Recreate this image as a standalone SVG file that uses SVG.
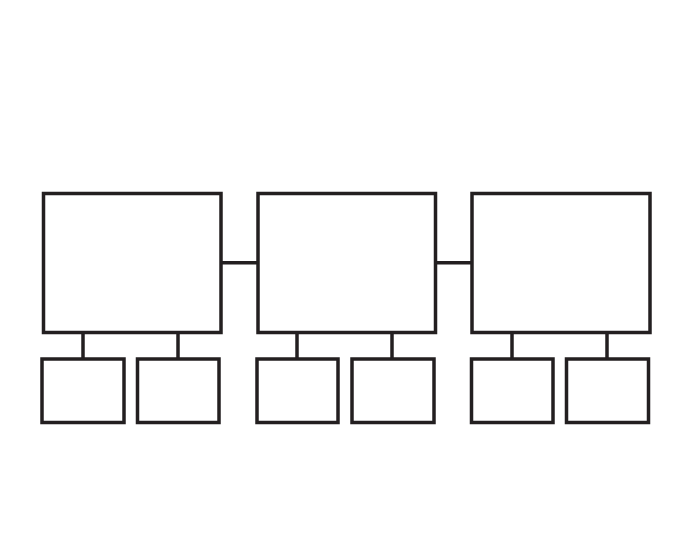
<svg xmlns="http://www.w3.org/2000/svg" width="692" height="550" viewBox="0 0 692 550">
<style>
.b{fill:#fff;stroke:#231f20;stroke-width:3.5}
.c{stroke:#231f20;stroke-width:3.5;fill:none}
</style>
<rect width="692" height="550" fill="#fff"/>
<g id="connectors">
<line class="c" x1="221" y1="262.7" x2="258" y2="262.7"/>
<line class="c" x1="435" y1="262.7" x2="472" y2="262.7"/>
<line class="c" x1="83" y1="332.5" x2="83" y2="359"/>
<line class="c" x1="178" y1="332.5" x2="178" y2="359"/>
<line class="c" x1="297" y1="332.5" x2="297" y2="359"/>
<line class="c" x1="392" y1="332.5" x2="392" y2="359"/>
<line class="c" x1="512" y1="332.5" x2="512" y2="359"/>
<line class="c" x1="607" y1="332.5" x2="607" y2="359"/>
</g>
<g id="main1"><rect class="b" x="43.5" y="193.5" width="177.5" height="139"/></g>
<g id="main2"><rect class="b" x="258" y="193.5" width="177.5" height="139"/></g>
<g id="main3"><rect class="b" x="472" y="193.5" width="178" height="139"/></g>
<g id="sub1a"><rect class="b" x="42" y="359" width="82" height="63.5"/></g>
<g id="sub1b"><rect class="b" x="137.5" y="359" width="81.5" height="63.5"/></g>
<g id="sub2a"><rect class="b" x="257" y="359" width="81" height="63.5"/></g>
<g id="sub2b"><rect class="b" x="352" y="359" width="82" height="63.5"/></g>
<g id="sub3a"><rect class="b" x="471.5" y="359" width="81.5" height="63.5"/></g>
<g id="sub3b"><rect class="b" x="566.5" y="359" width="82" height="63.5"/></g>
</svg>
